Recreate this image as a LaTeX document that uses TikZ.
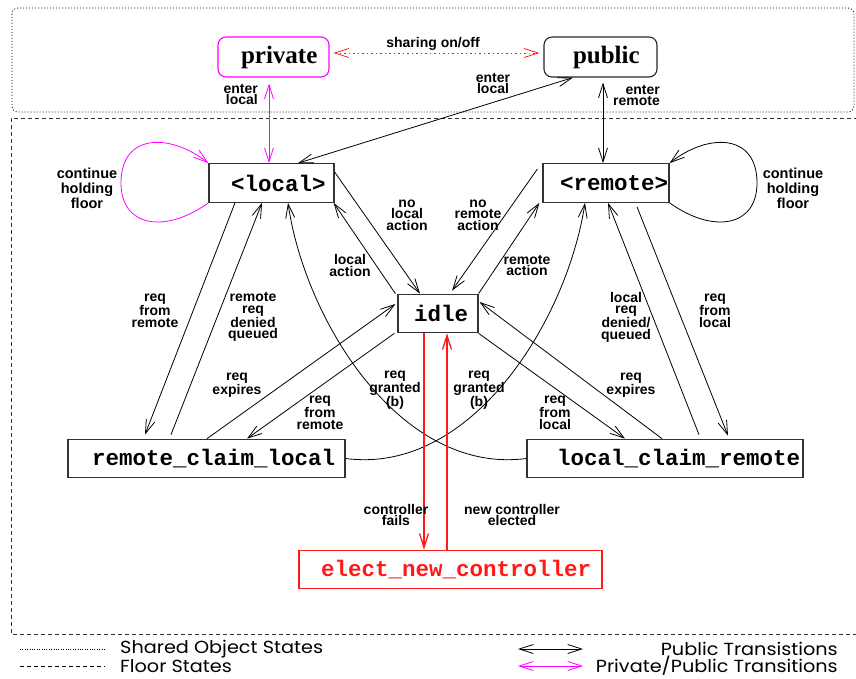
\documentclass[tikz,border=0pt]{standalone}
\usepackage{fontspec}
\setmainfont{Liberation Serif}
\newfontfamily\lblfont{Liberation Sans}
\newfontfamily\boxfont{Liberation Mono}
\newfontfamily\legfont[FakeStretch=1.1]{Poppins}
\usetikzlibrary{arrows.meta}
\definecolor{mag}{HTML}{FF00FF}
\definecolor{rd}{HTML}{FF1A1A}
\definecolor{bx}{HTML}{333333}
\begin{document}
\begin{tikzpicture}[x=1pt,y=-1pt,
  >={Straight Barb[length=14pt,width=9pt]},
  conn/.style={line width=0.8pt},
  statebox/.style={draw=bx, line width=1.2pt, inner sep=0pt, minimum height=38.5pt,
    font=\boxfont\bfseries\fontsize{22.5}{24}\selectfont},
  objbox/.style={draw, line width=1.1pt, rounded corners=8pt, inner sep=0pt, minimum height=40pt,
    font=\bfseries\fontsize{25}{27}\selectfont},
  lbl/.style={font=\lblfont\bfseries\fontsize{14}{11.5}\selectfont, align=center, inner sep=0pt},
  lblwide/.style={font=\lblfont\bfseries\fontsize{14.5}{15}\selectfont, align=center, inner sep=0pt},
  lbltight/.style={font=\lblfont\bfseries\fontsize{14}{10.5}\selectfont, align=center, inner sep=0pt},
  leg/.style={font=\legfont\fontsize{17.5}{18}\selectfont, inner sep=0pt}
]
\useasboundingbox (0,0) rectangle (856,679);
% group frames
\draw[line width=0.8pt, dash pattern=on 1pt off 2pt, rounded corners=6pt] (12,8) rectangle (854,112);
\draw[line width=0.9pt, bx, dash pattern=on 4pt off 3pt] (858,118) -- (11,118) -- (11,634) -- (858,634);

% nodes
\node[objbox, draw=mag, minimum width=111pt] (private) at (273.5,57) {\makebox[111pt][l]{\hspace{23pt}private}};
\node[objbox, draw=black!85, minimum width=113pt] (public) at (600.5,57) {\makebox[113pt][l]{\hspace{29pt}public}};
\node[statebox, minimum width=125pt] (local) at (271.5,183) {\makebox[125pt][l]{\hspace{22pt}<local>}};
\node[statebox, minimum width=126pt] (remote) at (606,183) {\makebox[126pt][l]{\hspace{17pt}<remote>}};
\node[statebox, minimum width=80pt] (idle) at (438,313.5) {\makebox[80pt][l]{\hspace{16pt}idle}};
\node[statebox, minimum width=277pt] (rcl) at (206.5,458.5) {\makebox[277pt][l]{\hspace{24pt}remote\_claim\_local}};
\node[statebox, minimum width=276pt] (lcr) at (665,458.5) {\makebox[276pt][l]{\hspace{30pt}local\_claim\_remote}};
\node[statebox, draw=rd, text=rd, minimum width=303pt] (elect) at (450.5,569.5) {\makebox[303pt][l]{\hspace{22pt}elect\_new\_controller}};

% shared object transitions
\draw[conn, rd, <->, dash pattern=on 1.5pt off 3pt] ([xshift=4pt,yshift=4pt]private.east) -- ([xshift=-4pt,yshift=4pt]public.west);
\node[lbl] at (433,44) {sharing on/off};
\draw[conn, mag, <->] ([xshift=-4.5pt,yshift=-6pt]private.south) -- ([xshift=-2.5pt]local.north);
\node[lbl, align=right, anchor=east] at (258,94.5) {enter\\local};
\draw[conn, <->] ([xshift=-27.5pt]public.south) -- ([xshift=26.5pt]local.north);
\node[lbl] at (493,83.5) {enter\\local};
\draw[conn, <->] ([xshift=2.5pt,yshift=-5pt]public.south) -- ([xshift=-3pt]remote.north);
\node[lbl, align=right, anchor=east] at (660,95.5) {enter\\remote};

% loops
\draw[conn, mag, ->] (local.south west) .. controls (165,234) and (121,227) .. (121,183)
  .. controls (121,133) and (170,133) .. (local.north west);
\node[lblwide] at (87,188) {continue\\holding\\floor};
\draw[conn, ->] (remote.south east) .. controls (713,234) and (757,227) .. (757,183)
  .. controls (757,133) and (708,133) .. (remote.north east);
\node[lblwide] at (793,188) {continue\\holding\\floor};

% local <-> idle
\draw[conn, ->] ([yshift=11pt]local.east) -- ([xshift=-18pt]idle.north);
\node[lbl] at (407,215) {no\\local\\action};
\draw[conn, ->] ([xshift=-2pt]idle.north west) -- ([xshift=-1pt]local.south east);
\node[lbl] at (350,265.5) {local\\action};
% remote <-> idle
\draw[conn, ->] ([xshift=-5pt,yshift=14pt]remote.west) -- ([xshift=14pt,yshift=3pt]idle.north);
\node[lbl] at (478,215) {no\\remote\\action};
\draw[conn, ->] (idle.north east) -- ([xshift=-3pt]remote.south west);
\node[lbl] at (527,265.5) {remote\\action};

% local <-> rcl
\draw[conn, ->] ([xshift=-36.5pt]local.south) -- ([xshift=-61.5pt,yshift=4pt]rcl.north);
\node[lbl] at (155,311) {req\\from\\remote};
\draw[conn, ->] ([xshift=-35.5pt,yshift=4pt]rcl.north) -- ([xshift=-9.5pt]local.south);
\node[lbl] at (253,317) {remote\\req\\denied\\queued};

% remote <-> lcr
\draw[conn, ->] ([xshift=31pt,yshift=-4pt]remote.south) -- ([xshift=63pt,yshift=3pt]lcr.north);
\node[lbl] at (715,311) {req\\from\\local};
\draw[conn, ->] ([xshift=34pt,yshift=4pt]lcr.north) -- ([xshift=2pt]remote.south);
\node[lbl] at (626,317) {local\\req\\denied/\\queued};

% granted curves
\draw[conn, ->] (lcr.west) .. controls (400,475) and (305,320) .. ([xshift=16.5pt]local.south);
\node[lbl] at (395,390) {req\\granted\\(b)};
\draw[conn, ->] (rcl.east) .. controls (472,475) and (567,320) .. ([xshift=-21pt]remote.south);
\node[lbl] at (479,390) {req\\granted\\(b)};

% idle <-> claims
\draw[conn, ->] ([xshift=-3pt]idle.south west) -- ([xshift=40.5pt]rcl.north);
\node[lbl] at (320,413) {req\\from\\remote};
\draw[conn, ->] ([xshift=0.5pt]rcl.north) -- ([xshift=-2pt,yshift=9.5pt]idle.west);
\node[lbl] at (237,385.5) {req\\expires};
\draw[conn, ->] (idle.south east) -- ([xshift=-40pt]lcr.north);
\node[lbl] at (555,413) {req\\from\\local};
\draw[conn, ->] ([xshift=-3pt]lcr.north) -- ([xshift=1pt,yshift=11.5pt]idle.east);
\node[lbl] at (631,385.5) {req\\expires};

% controller election
\draw[line width=1.3pt, rd, ->] ([xshift=-14pt]idle.south) -- ([xshift=-26.5pt]elect.north);
\node[lbltight] at (396,515) {controller\\fails};
\draw[line width=1.3pt, rd, ->] ([xshift=-3.5pt]elect.north) -- ([xshift=9pt]idle.south);
\node[lbltight] at (512,515) {new controller\\elected};

% legend
\coordinate (d1) at (20,649); \coordinate (d2) at (105,649);
\coordinate (e1) at (20,666); \coordinate (e2) at (105,666);
\coordinate (p1) at (518,649); \coordinate (p2) at (583,649);
\coordinate (q1) at (518,666); \coordinate (q2) at (583,666);
\draw[line width=0.6pt, dash pattern=on 0.8pt off 1.6pt] (d1) -- (d2);
\draw[line width=0.6pt, dash pattern=on 4pt off 3pt] (e1) -- (e2);
\node[leg, anchor=west] at (120,649) {Shared Object States};
\node[leg, anchor=west] at (120,666) {Floor States};
\draw[conn, <->] (p1) -- (p2);
\draw[conn, mag, <->] (q1) -- (q2);
\node[leg, anchor=east] at (838,649) {Public Transistions};
\node[leg, anchor=east] at (838,666) {Private/Public Transitions};
\end{tikzpicture}
\end{document}
